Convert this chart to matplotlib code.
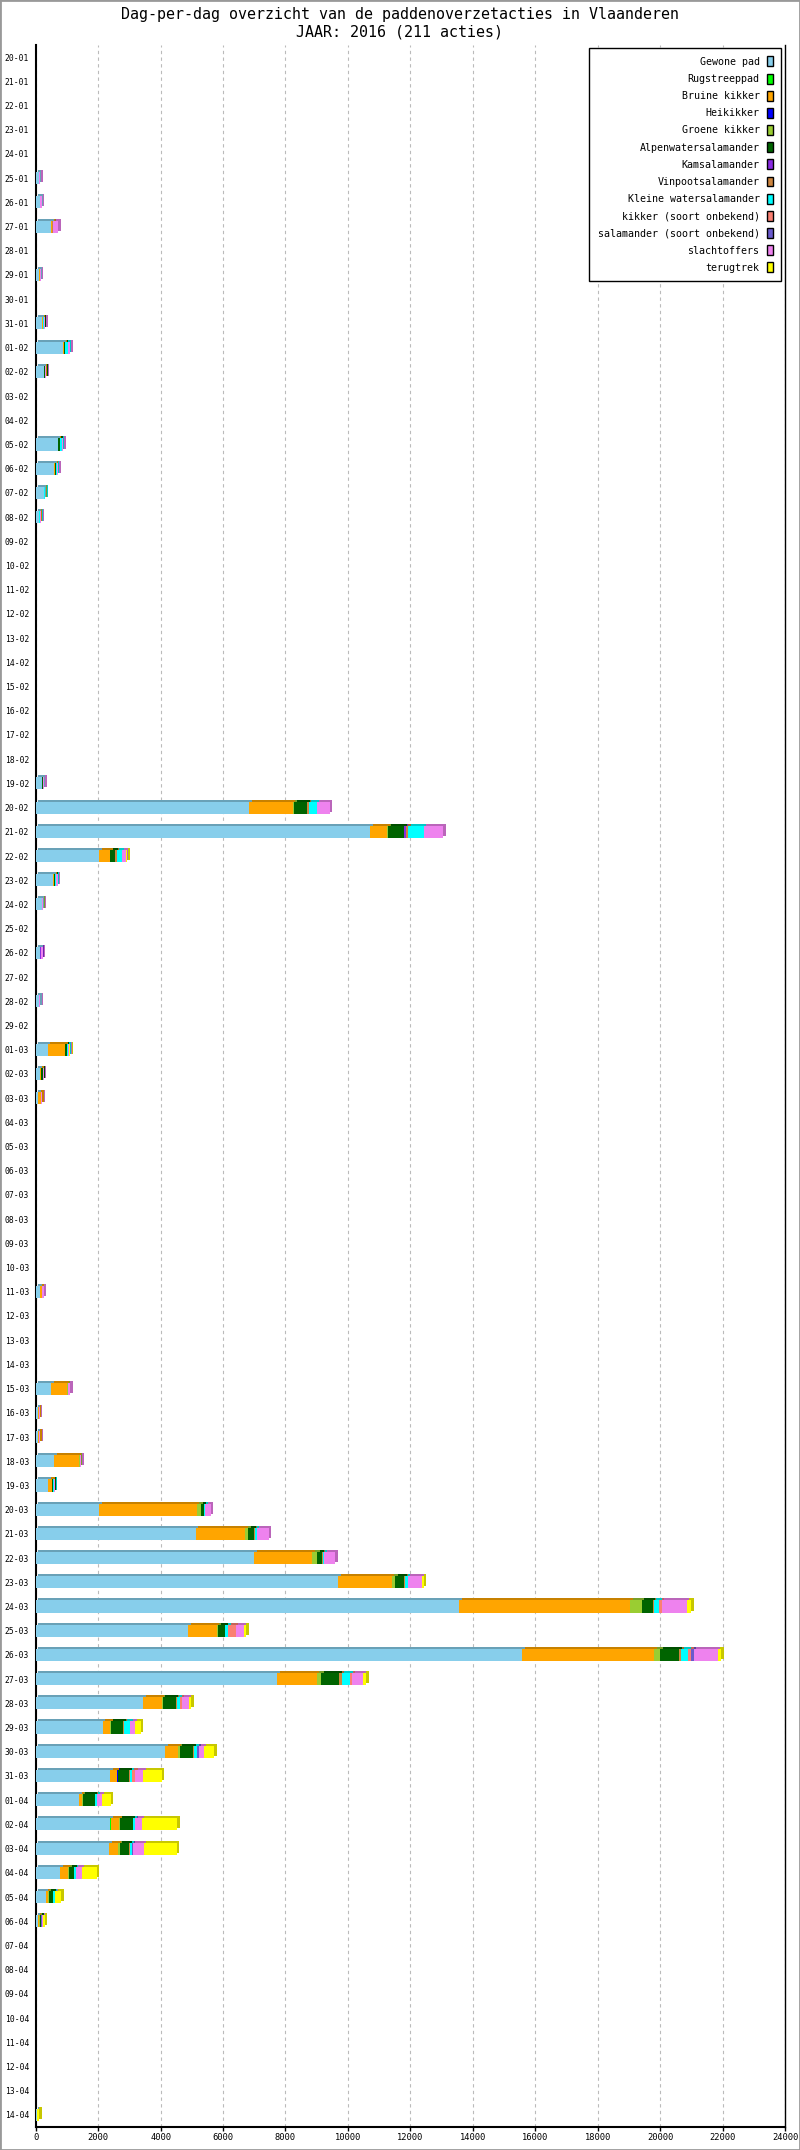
import matplotlib
matplotlib.use("Agg")
import matplotlib.pyplot as plt
import matplotlib.colors as mcolors
from matplotlib.transforms import ScaledTranslation
from matplotlib.patches import Patch, Rectangle
import numpy as np
import pandas as pd

plt.rcParams['font.family'] = ['DejaVu Sans Mono', 'DejaVu Sans']

# ---------------- data ----------------
title1 = "Dag-per-dag overzicht van de paddenoverzetacties in Vlaanderen"
title2 = "JAAR: 2016 (211 acties)"

all_dates = [d.strftime("%d-%m") for d in pd.date_range("2016-01-20", "2016-04-14")]

bar_dates = ["25-01", "26-01", "27-01", "29-01", "31-01",
             "01-02", "02-02", "05-02", "06-02", "07-02", "08-02", "19-02", "20-02",
             "21-02", "22-02", "23-02", "24-02", "26-02", "28-02",
             "01-03", "02-03", "03-03", "11-03", "15-03", "16-03", "17-03", "18-03",
             "19-03", "20-03", "21-03", "22-03", "23-03", "24-03", "25-03", "26-03",
             "27-03", "28-03", "29-03", "30-03", "31-03",
             "01-04", "02-04", "03-04", "04-04", "05-04", "06-04", "14-04"]

series_names = ["Gewone pad", "Rugstreeppad", "Bruine kikker", "Heikikker", "Groene kikker",
                "Alpenwatersalamander", "Kamsalamander", "Vinpootsalamander",
                "Kleine watersalamander", "kikker (soort onbekend)",
                "salamander (soort onbekend)", "slachtoffers", "terugtrek"]

series_colors = ["#87CEEB", "#00FF00", "#FFA500", "#0000FF", "#9ACD32", "#006400",
                 "#8A2BE2", "#CD853F", "#00FFFF", "#FA8072", "#6A5ACD", "#EE82EE", "#FFFF00"]

Z5, Z14, Z21, Z7 = [0]*5, [0]*14, [0]*21, [0]*7

gewone_pad = ([90, 140, 500, 115, 200]
              + [890, 260, 700, 590, 250, 100, 210, 6840, 10710, 2030, 570, 190, 150, 110]
              + [390, 130, 85, 125, 500, 60, 60, 600, 400, 2030, 5130, 7000, 9690, 13560,
                 4890, 15590, 7740, 3445, 2140, 4150, 2385]
              + [1390, 2380, 2360, 790, 320, 60, 30])
rugstreeppad = Z5 + Z14 + Z21 + [0, 30, 0, 0, 0, 0, 0]
bruine_kikker = ([0, 0, 35, 20, 20]
                 + [20, 15, 20, 30, 0, 20, 0, 1390, 550, 350, 30, 0, 0, 0]
                 + [550, 50, 100, 75, 500, 40, 50, 780, 130, 3130, 1580, 1860, 1710, 5490,
                    910, 4220, 1270, 600, 240, 420, 215]
                 + [85, 270, 280, 230, 60, 40, 0])
heikikker = Z5 + Z14 + ([0]*20 + [30]) + Z7
groene_kikker = ([0, 0, 0, 0, 0]
                 + [0, 0, 0, 0, 20, 0, 0, 50, 30, 0, 0, 20, 0, 0]
                 + [0, 0, 0, 0, 30, 0, 0, 30, 0, 130, 90, 160, 110, 360, 50, 200, 140,
                    30, 30, 50, 0]
                 + [40, 20, 60, 50, 40, 30, 0])
alpenwatersalamander = ([0, 0, 0, 0, 20]
                        + [40, 30, 60, 25, 0, 0, 20, 415, 520, 160, 20, 0, 0, 0]
                        + [50, 50, 0, 0, 0, 0, 0, 0, 30, 85, 190, 140, 300, 360, 220, 610,
                           580, 410, 390, 420, 360]
                        + [380, 410, 300, 160, 150, 40, 0])
kamsalamander = Z5 + [0, 0, 0, 0, 0, 0, 0, 0, 40, 0, 0, 0, 30, 0] + Z21 + Z7
vinpootsalamander = ([0, 0, 20, 0, 0]
                     + [0, 0, 10, 0, 0, 0, 0, 50, 85, 60, 0, 0, 0, 0]
                     + [0, 0, 0, 0, 0, 0, 0, 0, 0, 0, 30, 30, 30, 30, 0, 60, 80, 40, 40,
                        30, 20]
                     + [20, 0, 20, 0, 0, 0, 0])
kleine_watersalamander = ([0, 0, 0, 0, 20]
                          + [85, 0, 50, 30, 30, 30, 0, 265, 500, 160, 40, 0, 0, 0]
                          + [50, 0, 0, 0, 0, 0, 0, 0, 30, 60, 60, 60, 75, 180, 90, 220, 270,
                             90, 190, 90, 60]
                          + [50, 60, 60, 50, 40, 0, 0])
kikker_onbekend = (Z5 + Z14
                   + [0, 0, 0, 0, 0, 0, 0, 0, 0, 0, 0, 0, 0, 80, 250, 90, 60, 60, 0, 0, 120]
                   + Z7)
salamander_onbekend = (Z5 + Z14
                       + [0, 0, 0, 0, 0, 0, 0, 0, 0, 0, 0, 0, 0, 0, 0, 90, 0, 0, 0, 60, 0]
                       + [0, 20, 30, 0, 0, 20, 0])
slachtoffers = ([50, 50, 160, 25, 40]
                + [65, 40, 50, 50, 0, 30, 40, 415, 620, 130, 40, 30, 40, 40]
                + [30, 30, 30, 60, 70, 30, 30, 50, 20, 170, 380, 350, 450, 800, 250, 770,
                   350, 220, 140, 170, 250]
                + [150, 200, 350, 200, 20, 30, 0])
terugtrek = (Z5
             + [0, 0, 0, 0, 0, 0, 0, 0, 0, 40, 0, 0, 0, 0]
             + [40, 0, 0, 0, 0, 0, 0, 0, 0, 0, 0, 0, 60, 140, 80, 110, 90, 80, 190, 330, 600]
             + [290, 1150, 1050, 480, 190, 70, 90])

series_values = [gewone_pad, rugstreeppad, bruine_kikker, heikikker, groene_kikker,
                 alpenwatersalamander, kamsalamander, vinpootsalamander,
                 kleine_watersalamander, kikker_onbekend, salamander_onbekend,
                 slachtoffers, terugtrek]
for s in series_values:
    assert len(s) == len(bar_dates)

x_ticks = list(range(0, 24001, 2000))

# ---------------- figure ----------------
W, H = 800, 2150
fig = plt.figure(figsize=(W / 100, H / 100), dpi=100)
ax_l, ax_r, ax_t, ax_b = 35.7, 785, 45, 2127
ax = fig.add_axes([ax_l / W, 1 - ax_b / H, (ax_r - ax_l) / W, (ax_b - ax_t) / H])

ypos = np.array([all_dates.index(d) for d in bar_dates])
bar_h = 0.5
left = np.zeros(len(bar_dates))
shadow_tr = ax.transData + ScaledTranslation(2.5 / 100, 2.0 / 100, fig.dpi_scale_trans)

for name, col, vals in zip(series_names, series_colors, series_values):
    vals = np.array(vals, dtype=float)
    mask = vals > 0
    if mask.any():
        dark = tuple(np.array(mcolors.to_rgb(col)) * 0.78)
        sh = ax.barh(ypos[mask], vals[mask], left=left[mask], height=bar_h,
                     color=dark, zorder=2, linewidth=0)
        for p in sh.patches:
            p.set_transform(shadow_tr)
        ax.barh(ypos[mask], vals[mask], left=left[mask], height=bar_h,
                color=col, zorder=3, linewidth=0)
    left += vals

ax.set_xlim(0, 24000)
ax.set_ylim(len(all_dates) - 0.5, -0.5)
ax.set_yticks(range(len(all_dates)))
ax.set_yticklabels(all_dates, fontsize=5.8)
ax.tick_params(axis='y', length=0, pad=4.8)
ax.set_xticks(x_ticks)
ax.set_xticklabels([str(t) for t in x_ticks], fontsize=6.3)
ax.tick_params(axis='x', length=3, width=1, pad=1.5, direction='out')

ax.set_axisbelow(True)
ax.xaxis.grid(True, linestyle=(0, (3, 3)), color='#bbbbbb', linewidth=0.8, zorder=0)
ax.yaxis.grid(False)

ax.spines['top'].set_visible(False)
ax.spines['left'].set_linewidth(1.5)
ax.spines['bottom'].set_linewidth(1.5)
ax.spines['right'].set_linewidth(1.0)
for s in ('left', 'bottom', 'right'):
    ax.spines[s].set_color('black')

fig.text(0.5, 1 - 14 / H, title1, ha='center', va='center', fontsize=10.8)
fig.text(0.5, 1 - 32 / H, title2, ha='center', va='center', fontsize=10.8)

handles = [Patch(facecolor=c, edgecolor='black', linewidth=1) for c in series_colors]
leg = ax.legend(handles, series_names, loc='upper right',
                bbox_to_anchor=(781 / W, 1 - 48 / H), bbox_transform=fig.transFigure,
                markerfirst=False, prop={'family': 'DejaVu Sans Mono', 'size': 7.2},
                frameon=True, fancybox=False, framealpha=1, edgecolor='black',
                handlelength=0.6, handleheight=1.15, handletextpad=0.7,
                labelspacing=0.68, borderpad=0.85, borderaxespad=0)
leg.get_frame().set_linewidth(1.0)
leg.set_zorder(10)

fig.add_artist(Rectangle((0, 0), 1, 1, transform=fig.transFigure, fill=False,
                         edgecolor='#999999', linewidth=2))

fig.savefig("out.png", dpi=100)
